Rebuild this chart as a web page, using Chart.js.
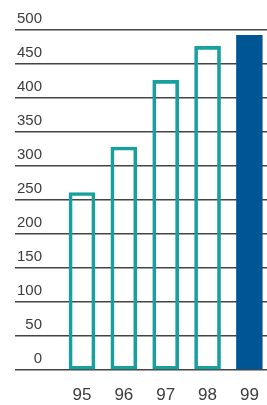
<!DOCTYPE html>
<html>
<head>
<meta charset="UTF-8" />
<script src="https://cdn.jsdelivr.net/npm/chart.js@4"></script>
<style>
  html, body { margin: 0; padding: 0; background: #fff; }
  #box { width: 267px; height: 405px; }
</style>
</head>
<body>
<div id="box"><canvas id="grafico"></canvas></div>
<script>
// dados
const anos = [95, 96, 97, 98, 99];
const valores = [261, 328, 426, 476, 492];
const marcasY = [0, 50, 100, 150, 200, 250, 300, 350, 400, 450, 500];

const teal = "#17a09e";
const azul = "#005595";

const cfg = {
  type: "bar",
  data: {
    datasets: [{
      data: anos.map((a, i) => ({ x: a, y: valores[i] })),
      backgroundColor: anos.map(a => a === 99 ? azul : "rgba(0,0,0,0)"),
      borderColor: anos.map(a => a === 99 ? azul : teal),
      borderWidth: 3,
      borderSkipped: false,
      barThickness: 26
    }]
  },
  options: {
    responsive: true,
    maintainAspectRatio: false,
    animation: false,
    layout: { padding: { left: 15, right: 0, top: 30, bottom: 0 } },
    plugins: { legend: { display: false }, tooltip: { enabled: false } },
    scales: {
      x: {
        type: "linear",
        offset: false,
        min: 93.4,
        max: 99.42,
        grid: { display: false },
        border: { display: false },
        afterBuildTicks: ax => { ax.ticks = anos.map(v => ({ value: v })); },
        afterFit: ax => { ax.height = 35; },
        ticks: {
          padding: 7,
          color: "#3c3c3c",
          font: { family: "Liberation Sans", size: 17 },
          callback: v => String(v)
        }
      },
      y: {
        min: 0,
        max: 500,
        afterBuildTicks: ax => { ax.ticks = marcasY.map(v => ({ value: v })); },
        afterFit: ax => { ax.width = 0; },
        grid: { color: "#444", lineWidth: 1.5, drawTicks: false },
        border: { display: false },
        ticks: {
          mirror: true,
          crossAlign: "far",
          padding: 2,
          labelOffset: -11,
          color: "#3c3c3c",
          font: { family: "Liberation Sans", size: 15 }
        }
      }
    }
  }
};

new Chart(document.getElementById("grafico"), cfg);
</script>
</body>
</html>
